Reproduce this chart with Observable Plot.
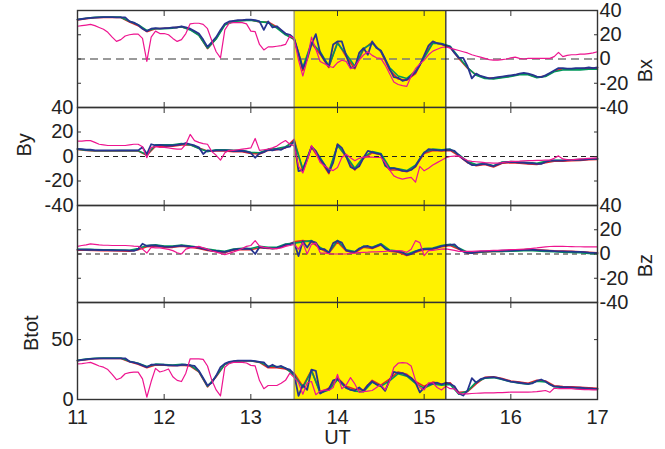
<!DOCTYPE html>
<html><head><meta charset="utf-8">
<script src="https://cdn.jsdelivr.net/npm/d3@7"></script>
<script src="https://cdn.jsdelivr.net/npm/@observablehq/plot@0.6"></script>
<style>
html,body{margin:0;padding:0;background:#fff;}
#chart{position:relative;width:665px;height:449px;}
#chart svg{position:absolute;left:0;top:0;overflow:visible;}
</style></head><body><div id="chart"></div>
<script>
// sampling times (UT hours)
const T = [11,11.05,11.1,11.15,11.2,11.25,11.3,11.35,11.4,11.45,11.5,11.55,
11.6,11.65,11.7,11.75,11.8,11.85,11.9,11.95,12,12.05,12.1,12.15,
12.2,12.25,12.3,12.35,12.4,12.45,12.5,12.55,12.6,12.65,12.7,12.75,
12.8,12.85,12.9,12.95,13,13.05,13.1,13.15,13.2,13.25,13.3,13.35,
13.4,13.45,13.5,13.55,13.6,13.65,13.7,13.75,13.8,13.85,13.9,13.95,
14,14.05,14.1,14.15,14.2,14.25,14.3,14.35,14.4,14.45,14.5,14.55,
14.6,14.65,14.7,14.75,14.8,14.85,14.9,14.95,15,15.05,15.1,15.15,
15.2,15.25,15.3,15.35,15.4,15.45,15.5,15.55,15.6,15.65,15.7,15.75,
15.8,15.85,15.9,15.95,16,16.05,16.1,16.15,16.2,16.25,16.3,16.35,
16.4,16.45,16.5,16.55,16.6,16.65,16.7,16.75,16.8,16.85,16.9,16.95,17];
const T2 = [11,11.1,11.2,11.3,11.4,11.5,11.6,11.7,11.8,11.9,
12,12.1,12.2,12.3,12.4,12.5,12.6,12.7,12.8,12.9,
13,13.1,13.2,13.3,13.4,13.5,13.6,13.7,13.8,13.9,
14,14.1,14.2,14.3,14.4,14.5,14.6,14.7,14.8,14.9,
15,15.1,15.2,15.3,15.4,15.5,15.6,15.7,15.8,15.9,
16,16.1,16.2,16.3,16.4,16.5,16.6,16.7,16.8,16.9,17];

// Bx
const bxBlue = [32.5,33,33.5,34,34.2,34.4,34.5,34.5,34.5,34.4,34.4,34.3,
31,30,28,25,23,25,25.5,25,25.5,25.5,26,26,
27,26,25,23,21,16,10,14,18,24,29,31,
31.5,32,32,32.5,32.5,32,31,24,31,26,27,24,
21,20,17,5,-8,0,12,20.5,5,-1,-6,12,
14.5,14.5,3,-7,-7,5,9,3.5,14.5,9,7,0,
-8,-15,-15.5,-18,-17,-14,-11,-5,3,11,14.5,13,
12.5,11,10,5,1,1,-6,-16,-12,-14,-15,-16,
-15.5,-15,-14.5,-14,-13.5,-13,-12,-11.5,-12,-13,-14.5,-15,
-13.5,-11.5,-9.5,-7.5,-7.5,-8,-8,-7.5,-7.5,-7.5,-7,-7.5,-7];
const bxMag = [27,27.5,28,28.5,27.5,26,24.5,22,18,14.5,16,19,
20,20.5,20.5,17,-2,18,23,21,21,20,17,14.5,
16,21,29,29.5,29.5,28.5,25,15,6,1,24,29.5,
30,30,30,29,23,22.5,12,7.5,10,10,10.5,11,
12,19,17,-1,-14,-1,18,8,-2,-4,-6,-7,
-3,-1,-2,-8,-6,-1,3.3,6,3,1,0.5,-5,
-12,-19,-21,-22,-22.5,-14,-8,-4,-1,3.5,6.5,8,
9.5,10,9,8,7,6,5,3.5,2.5,1.5,0.5,-0.5,
-1,-1,-0.5,0,1,1.5,0.5,0,0.5,0.5,0.5,0.5,
0.5,0.5,2,5.5,2,3,3.5,3.5,4,4,4.5,5,6];
const bxRed = [32.3,33.3,34,34.3,34.3,34.2,30.5,27.5,22.5,25,
25.3,25.8,26.5,24.5,20,8.5,17,28.5,31.2,31.8,
32.2,30.5,30.5,26.5,20.5,16,-9.5,13,4,-7,
14,2,-8,8,14,6,-9,-16.5,-17.5,-12,
2,14,12,9.5,0.5,-7.5,-13,-15.5,-16,-15,
-14,-12.5,-12.5,-15,-14,-10,-8,-8.5,-8,-7.5,-7.5];
const bxGreen = [32.6,33.6,34.3,34.6,34.6,34.5,31.2,28.3,23.5,25.2,
25,25.5,26.5,24,19.5,9,16.5,28,31,31.5,
32,30.8,30,25.5,20,16.5,-7,13.5,6,-6,
13,4,-6,8.5,13,6.5,-7,-14,-16,-10,
1,13,12.8,10.5,1.5,-7,-13.5,-16,-16.5,-15.5,
-14.5,-13,-13,-15.5,-14.5,-10.5,-9,-9,-9,-8.5,-8.5];

// By
const byBlue = [6.3,6,5.5,5.5,5,5,5,5,5,5,5,5,
5,5,5,7.5,2,10,9,9.5,9,9,9,9.5,
10,11,10,9,7.5,2,5,4.5,5,5,5,5,
4.5,4.5,4.5,4,3,-1,2.5,3.6,5.5,5,6,5.5,
7.5,8,12.8,-12,-11,-2,8,4.6,-2,-7,-13,-5,
10,7,0,-8.5,-10.3,-8,-1,4.6,3.5,2.5,1.9,-7.6,
-10,-9.5,-10.5,-11.7,-12,-11,-8,-2,3,6,5.5,5.2,
5,5.5,5.5,4.5,1,-2,-4.6,-7,-7,-6.5,-6,-7,
-7.9,-6.5,-5,-4.6,-4.6,-4.6,-5,-5,-5.5,-5.5,-6,-6,
-4.5,-3.3,-3.3,-3.3,-3.3,-3,-3,-2.8,-2.7,-2.5,-2.2,-2,-1.9];
const byMag = [12.5,12.5,13,13,11.5,10,9.5,9,9,9,9,9,
9.5,10,10,8,-1,7.5,8,7.5,7.5,7,6.5,6,
6,10,18,13,11.5,10.5,10,4,1,-3,3,5,
5,5.5,6,6.5,7,14.7,5,5.5,6,7,8.5,11,
13,10,8.7,-8,-13.5,-3.5,9,3,-5,-7.5,-10,-11.5,
-9,-0.8,1.9,-1,-3.5,-1.5,-0.5,-0.3,-0.5,-0.8,-0.8,-5,
-11,-15.8,-17.5,-18.5,-17.7,-17,-21,-8,-11.7,-9.5,-7,-5,
-3,-1,0,0.3,0.5,-1.5,-3.3,-4,-4.3,-4.6,-5,-5.2,
-5.4,-5.4,-5,-4.5,-4,-4,-3.8,-3.5,-3.4,-3.3,-3.2,-3.2,
-3,-3,-1.5,0.5,-2,-2.5,-2.7,-2.3,-2,-1.8,-1.5,-1.3,-1.1];
const byRed = [5.8,5,4.5,4.5,4.5,4.5,4.5,4.5,1,8.5,
8.5,8.5,9.5,9.5,7,4.5,4.5,4.5,4,4,
2.5,2,5,5.5,7,14,-12,7.5,-3,-14,
9.5,-0.5,-11,-1.5,3,1.5,-11,-11,-12.5,-8.5,
2.5,5,4.5,5,0.5,-5,-7.5,-6.5,-8.5,-5.5,
-5,-5.5,-6,-6.5,-5,-3.8,-3.8,-3.5,-3.2,-2.7,-2.4];
const byGreen = [6,5.2,4.8,4.7,4.7,4.8,4.8,4.8,1.5,9.5,
9.5,9.5,10.5,9.5,6.5,4,5.5,5.5,5,5,
3.5,3,6,6.5,8,12,-10,8,-1,-12,
9,0.5,-9.5,-0.5,4,2.5,-9,-10,-11.5,-7,
3.5,6,5.5,6,1.5,-4,-6.5,-5.5,-7.5,-4.5,
-4.2,-4.6,-5,-5.5,-4,-3,-3,-2.7,-2.4,-2,-1.6];

// Bz
const bzBlue = [3.6,3.6,3.5,3.5,3.4,3.3,3.2,3.2,3.1,3,3,3,
2.8,2.5,4,8.5,6.6,7,7,6.5,6,5.8,6,6.5,
6.9,6.5,6,5.8,5,4.5,3.5,2.8,2.5,2,1.7,2.5,
3.6,4,4.2,4.4,4,0,5.8,5,5,4.5,5,6,
7.7,8,9.4,-1.7,10.5,5.3,10.7,9.4,4,3.9,1,9,
10.8,9.4,3,2,1.5,4.5,6,6.6,5,6.5,8,4.4,
2.8,2.5,2,1.4,-0.8,0,2,3.5,4,4,4.5,5.3,
6.5,7.2,7.5,8,4.5,2,1,0.8,1.5,2,2.2,2.3,
2.5,2.6,2.7,2.8,2.8,3,3.2,3.4,3.6,3.5,3.2,3,
2.8,2.6,2.4,2.2,2.2,2,2,1.8,1.7,1.5,1.2,1,0.8];
const bzMag = [6.3,7,7.5,8.3,8,7.5,7.2,7.2,7,7,7,7,
6.8,6.5,6.3,4,0.8,5.5,5,5,4.5,3.8,2.8,1,
0,4,5,5.5,6.3,5,4,2.5,1.5,0.5,-0.5,0.5,
1.7,3,4.5,6.3,7,11,6.5,5.5,5,4.5,4.5,5,
6.3,7,8,4,9.4,0,8,9,1,0.8,0.3,0,
0,0,0,0.5,0.8,1.2,1.4,1.5,1.7,1.8,2,2.2,
2.5,2.7,2.8,2.5,1.4,4,11,9.4,-1.4,2.8,3,3.5,
4,4.2,3.6,3,2.2,2.2,2.2,2.2,2.4,2.5,2.6,2.8,
3,3,3.2,3.4,3.6,3.7,3.8,3.9,4.3,4.7,5,5.4,
5.8,6.2,6.3,6.3,6.3,6.2,6.1,6,6,5.9,5.9,5.8,5.8];
const bzRed = [3.2,3.1,3,2.8,2.7,2.6,2.4,3.5,6,6.5,
5.5,5.5,6.4,5.5,4.5,3,2,1.2,3.2,3.8,
3.5,5.2,4.5,4.5,7,10,11,10,4.5,0.5,
10,2.5,1,5.5,4.5,7.5,2.3,1.5,-1.3,1.5,
3.5,4,6,7,4,0.5,1,1.7,2,2.2,
3,3.4,3.8,3.4,3,2.6,2.4,2.2,1.9,1.4,1];
const bzGreen = [3.9,3.8,3.7,3.5,3.4,3.3,3.1,4.5,7,7.5,
6.5,6.5,7.4,6.5,5.5,4,3,2.2,4,4.6,
4.5,6.3,5.5,5.5,8.2,9,10,11,5.5,1.5,
11.2,3.5,2,6.5,5.5,8.5,3.3,2.5,-0.3,2.5,
4.5,5,7,8,5,1.5,1.2,1.8,2,2.2,
2.3,2.6,3,2.6,2.2,1.8,1.5,1.2,1,0.4,0];

// Btot
const btBlue = [32.5,33,33.5,34,34.2,34.4,34.4,34.4,34.4,34.4,34.4,34.4,
31.7,31,30,28.5,27,29,29.2,29.2,29,28.5,28.5,28.3,
29,29,28.5,28,24,18,11.7,14,20,27,30,31.5,
32,32.5,32.5,32.5,32.5,32,31.5,31,27,29,27,28,
26,25,21,3,12,8,25,24,5,7.2,8.6,16,
17,14,10,8,7.5,10,7,12,15,12.5,11.4,7.2,
16,23,22,22,20,18,14,6,10,12.5,13.5,14,
12.5,14,13,11,5,3.3,7.5,17.8,14,17,18,18.5,
18.6,18,17,16,15,14.5,14,13.5,13,13.5,15.5,16.7,
15,12.5,11,10.7,10.3,10.3,10.2,10,9.8,9.5,9.3,9,8.9];
const btMag = [29.7,30,30.5,31,29.5,28,27,25,21,16.5,18,21.5,
22.5,22.8,22.8,17.2,1.9,15,26,23,24,25.5,19,16,
15,22,34,34,34,33.5,28,16,8,3,27,30,
31,31,31,30.5,28.5,28,15.8,9,11.7,11.7,11.7,13.5,
16,22,18.3,14,4.4,14,15,4,7,8,7.5,10,
21,9,12,18.3,13,6,6.5,7,7.5,10,12.5,8,
15,26.7,30.3,30.8,30.5,28,16,10,8,14,14,10,
8,11,9,8.9,5,4.7,4.7,5,5.2,5.4,5.5,5.5,
5.6,5.7,5.8,6,6.1,6.1,6.1,6.1,6.2,6.3,6.5,7,
7.5,6,9.4,9,9,9,9,8.7,8.5,8.3,8.2,8.1,8];
const btRed = [32.3,33.3,34,34.2,34.2,34.2,31.5,29.5,26.5,28.8,
28.6,28.2,28.6,28,23,10.5,19,29.5,31.7,32.2,
32.2,31,26.5,26.5,25.5,22,11,24.5,6,9.5,
18,11,8.5,8,16,12,17,23,21,15,
11,14.5,13,14,6,6.5,13,18.5,19,17.5,
15.5,14.5,13.5,16,15.5,11.5,10.8,10.6,10.2,9.7,9.3];
const btGreen = [32.7,33.7,34.4,34.6,34.6,34.6,32,30.3,27.5,29.5,
29.2,28.8,29.3,28.8,23.5,11,19.5,29.5,31.8,32.3,
32.3,31.2,28,27.5,26.5,20,10,24,5.5,8,
16.5,9.5,7,6.5,14.5,11,15.5,21.5,19.5,13.5,
9.5,13,12,12.5,4.5,7,14.5,17.8,18.3,16.7,
14.8,13.7,12.7,15.2,14.7,10.7,10,9.8,9.5,9,8.6];

const PERIOD = [13.5, 15.25];
const X_LABELS = [11,12,13,14,15,16,17];
const X_INNER = [12,13,14,15,16];
const B_TICKS = [40,20,0,-20,-40];
const B_INNER = [20,0,-20];
const BT_TICKS = [0,50];
const BT_INNER = [50];

const panels = [
  {name:"Bx", side:"right", top:10, bottom:107, domain:[-40,40], ticks:B_TICKS, inner:B_INNER, labelDx:48,
   zero:{stroke:"#7a7a7a", dash:"8,5", w:1.3}, blue:bxBlue, mag:bxMag, red:bxRed, green:bxGreen},
  {name:"By", side:"left", top:107, bottom:205, domain:[-40,40], ticks:B_TICKS, inner:B_INNER, labelDx:-53,
   zero:{stroke:"#222", dash:"5,4", w:1}, blue:byBlue, mag:byMag, red:byRed, green:byGreen},
  {name:"Bz", side:"right", top:205, bottom:302, domain:[-40,40], ticks:B_TICKS, inner:B_INNER, labelDx:48,
   zero:{stroke:"#222", dash:"5,4", w:1}, blue:bzBlue, mag:bzMag, red:bzRed, green:bzGreen},
  {name:"Btot", side:"left", top:302, bottom:399, domain:[0,81], ticks:BT_TICKS, inner:BT_INNER, labelDx:-46,
   zero:null, blue:btBlue, mag:btMag, red:btRed, green:btGreen}
];

const W = 665, H = 449;
const series = (t, v) => t.map((x, i) => ({t: x, v: v[i]}));
const blank = () => "";
const fmt = d => String(d);

panels.forEach((p, idx) => {
  const last = idx === panels.length - 1;
  const svg = Plot.plot({
    width: W, height: H,
    marginLeft: 77, marginRight: 68,
    marginTop: p.top, marginBottom: H - p.bottom,
    x: {domain: [11, 17]},
    y: {domain: p.domain},
    style: {fontFamily: "'Liberation Sans', Arial, Helvetica, sans-serif", fontSize: "20px", color: "#222", background: "transparent", overflow: "visible"},
    marks: [
      Plot.rect([PERIOD], {x1: d => d[0], x2: d => d[1], fill: "#fff200"}),
      p.zero ? Plot.ruleY([0], {stroke: p.zero.stroke, strokeDasharray: p.zero.dash, strokeWidth: p.zero.w}) : null,
      Plot.line(series(T2, p.red), {x: "t", y: "v", stroke: "#e8202a", strokeWidth: 1.6}),
      Plot.line(series(T2, p.green), {x: "t", y: "v", stroke: "#00985a", strokeWidth: 1.6}),
      Plot.line(series(T, p.blue), {x: "t", y: "v", stroke: "#27348f", strokeWidth: 1.8}),
      Plot.line(series(T, p.mag), {x: "t", y: "v", stroke: "#ee1590", strokeWidth: 1.2}),
      Plot.ruleX([PERIOD[0]], {stroke: "#8c8c8c", strokeWidth: 1.2}),
      Plot.ruleX([PERIOD[1]], {stroke: "#1a1a1a", strokeWidth: 1.2}),
      Plot.axisX(X_INNER, {anchor: "top", tickSize: 5, dy: 5, tickFormat: blank, label: null, stroke: "#333"}),
      Plot.axisX(X_INNER, {anchor: "bottom", tickSize: 5, dy: -5, tickFormat: blank, label: null, stroke: "#333"}),
      Plot.axisY(p.inner, {anchor: "left", tickSize: 4, dx: 4, tickFormat: blank, label: null, stroke: "#333"}),
      Plot.axisY(p.inner, {anchor: "right", tickSize: 4, dx: -4, tickFormat: blank, label: null, stroke: "#333"}),
      Plot.axisY(p.ticks, {anchor: p.side, tickSize: 0, tickPadding: p.side === "left" ? 4 : 2, tickFormat: fmt, label: null, fontSize: 20}),
      last ? Plot.axisX(X_LABELS, {anchor: "bottom", tickSize: 0, tickPadding: 10, tickFormat: fmt, label: null, fontSize: 20}) : null,
      Plot.text([p.name], {text: d => d, frameAnchor: p.side, rotate: -90, dx: p.labelDx, fontSize: 20, fill: "#222"}),
      last ? Plot.text(["UT"], {text: d => d, frameAnchor: "bottom", lineAnchor: "middle", dy: 38, fontSize: 20, fill: "#222"}) : null,
      Plot.frame({stroke: "#333", strokeWidth: 1.4})
    ]
  });
  document.getElementById("chart").appendChild(svg);
});
</script></body></html>
